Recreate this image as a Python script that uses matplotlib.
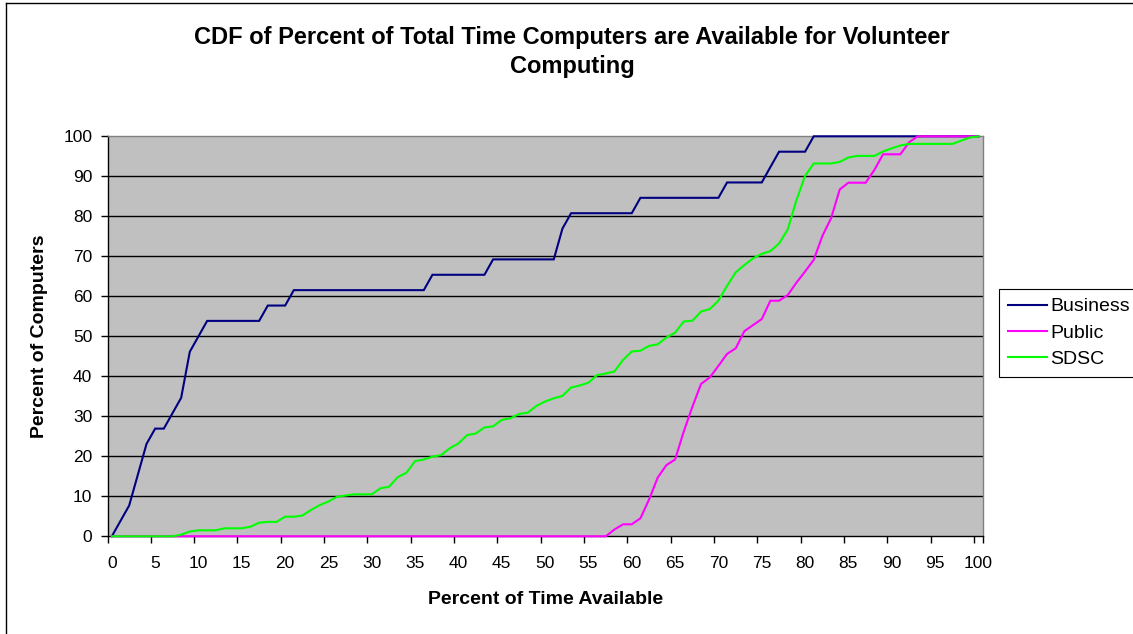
import matplotlib
matplotlib.use("Agg")
import matplotlib.pyplot as plt
from matplotlib.lines import Line2D

plt.rcParams['font.family'] = ['Liberation Sans', 'DejaVu Sans']

# ---- data ----
categories = list(range(0, 101))
tick_labels = [str(v) for v in range(0, 101, 5)]

business = [0, 3.85, 7.69, 15.38, 23.08, 26.92, 26.92, 30.77, 34.62, 46.15, 50.0,
            53.85, 53.85, 53.85, 53.85, 53.85, 53.85, 53.85,
            57.69, 57.69, 57.69,
            61.54, 61.54, 61.54, 61.54, 61.54, 61.54, 61.54, 61.54,
            61.54, 61.54, 61.54, 61.54, 61.54, 61.54, 61.54, 61.54,
            65.38, 65.38, 65.38, 65.38, 65.38, 65.38, 65.38,
            69.23, 69.23, 69.23, 69.23, 69.23, 69.23, 69.23, 69.23,
            76.92,
            80.77, 80.77, 80.77, 80.77, 80.77, 80.77, 80.77, 80.77,
            84.62, 84.62, 84.62, 84.62, 84.62, 84.62, 84.62, 84.62, 84.62, 84.62,
            88.46, 88.46, 88.46, 88.46, 88.46,
            92.31,
            96.15, 96.15, 96.15, 96.15,
            100, 100, 100, 100, 100, 100, 100, 100, 100, 100,
            100, 100, 100, 100, 100, 100, 100, 100, 100, 100]

public = [0, 0, 0, 0, 0, 0, 0, 0, 0, 0,
          0, 0, 0, 0, 0, 0, 0, 0, 0, 0,
          0, 0, 0, 0, 0, 0, 0, 0, 0, 0,
          0, 0, 0, 0, 0, 0, 0, 0, 0, 0,
          0, 0, 0, 0, 0, 0, 0, 0, 0, 0,
          0, 0, 0, 0, 0, 0, 0, 0,
          1.7, 3.0, 3.0, 4.5, 9.2, 14.7, 17.8, 19.2, 26.2, 32.4,
          38.1, 39.7, 42.6, 45.6, 47.0, 51.3, 52.8, 54.3, 58.9, 58.9,
          60.3, 63.4, 66.2, 69.1, 75.1, 79.5, 86.7, 88.4, 88.4, 88.4,
          91.6, 95.5, 95.5, 95.5, 98.5,
          100, 100, 100, 100, 100, 100, 100, 100]

sdsc = [0, 0, 0, 0, 0, 0, 0, 0,
        0.4, 1.2, 1.5, 1.5, 1.5, 2.0, 2.0, 2.0, 2.4, 3.4, 3.6, 3.6,
        4.9, 4.9, 5.2, 6.6, 7.8, 8.7, 9.9, 10.2, 10.5, 10.5,
        10.5, 12.0, 12.4, 14.8, 15.9, 18.8, 19.2, 19.9, 20.3, 22.0,
        23.2, 25.3, 25.7, 27.2, 27.5, 29.1, 29.5, 30.6, 30.9, 32.6,
        33.7, 34.5, 35.1, 37.2, 37.7, 38.4, 40.3, 40.7, 41.2, 44.1,
        46.2, 46.4, 47.6, 48.0, 49.7, 50.9, 53.7, 53.9, 56.2, 56.8,
        58.9, 62.6, 66.0, 67.8, 69.5, 70.6, 71.3, 73.2, 76.7, 84.0,
        90.1, 93.2, 93.2, 93.2, 93.6, 94.7, 95.1, 95.1, 95.1, 96.2,
        97.0, 97.7, 98.1, 98.1, 98.1, 98.1, 98.1, 98.1, 98.9, 99.7,
        100]

series_names = ["Business", "Public", "SDSC"]
series_colors = ["#000080", "#FF00FF", "#00FF00"]
y_ticks = list(range(0, 101, 10))

W, H = 1133, 634
fig = plt.figure(figsize=(W / 100, H / 100), dpi=100)
fig.patch.set_facecolor("white")

# chart-area border (top and left visible)
fig.add_artist(Line2D([6 / W, 1.0], [1 - 3 / H, 1 - 3 / H], color="black", lw=1.0,
                      transform=fig.transFigure))
fig.add_artist(Line2D([6 / W, 6 / W], [0, 1 - 3 / H], color="black", lw=1.0,
                      transform=fig.transFigure))

ax = fig.add_axes([107.5 / W, 1 - 536.3 / H, (982.7 - 107.5) / W, 400 / H])
ax.set_facecolor("#C0C0C0")

for name, vals, col in zip(series_names, [business, public, sdsc], series_colors):
    ax.plot(categories, vals, color=col, lw=1.5, label=name, zorder=3,
            solid_joinstyle="miter", clip_on=False)

ax.set_xlim(-0.5, 100.5)
ax.set_ylim(0, 100)

# y axis
ax.set_yticks(y_ticks)
ax.set_yticklabels([str(v) for v in y_ticks])
ax.tick_params(axis="y", direction="out", length=5, width=1, pad=6, labelsize=12.5,
               colors="black")
for yv in y_ticks[1:-1]:
    ax.axhline(yv, color="black", lw=1.0, zorder=1)

# x axis: labels at categories, tick marks between categories
ax.set_xticks(list(range(0, 101, 5)))
ax.set_xticklabels(tick_labels)
ax.tick_params(axis="x", which="major", length=0, pad=14, labelsize=12.5)
ax.set_xticks([v - 0.5 for v in range(0, 101, 5)] + [100.5], minor=True)
ax.tick_params(axis="x", which="minor", direction="out", length=5, width=1)

for s in ["left", "bottom"]:
    ax.spines[s].set_color("black")
    ax.spines[s].set_linewidth(1.0)
for s in ["top", "right"]:
    ax.spines[s].set_color("#808080")
    ax.spines[s].set_linewidth(1.0)

ax.set_xlabel("Percent of Time Available", fontsize=14, fontweight="bold")
ax.set_ylabel("Percent of Computers", fontsize=14, fontweight="bold")
ax.xaxis.set_label_coords(0.5, (536.3 - 600) / 400, transform=ax.transAxes)
ax.xaxis.label.set_va("center")
ax.yaxis.set_label_coords((40 - 107.5) / 875.2, 0.5, transform=ax.transAxes)
ax.yaxis.label.set_va("center")

fig.text(572 / W, 1 - 52 / H,
         "CDF of Percent of Total Time Computers are Available for Volunteer\nComputing",
         ha="center", va="center", fontsize=17, fontweight="bold", linespacing=1.3)

leg = ax.legend(loc="upper left", bbox_to_anchor=(999 / W, 1 - 289 / H),
                bbox_transform=fig.transFigure, frameon=True, fancybox=False,
                edgecolor="black", framealpha=1, fontsize=14, handlelength=2.0,
                handletextpad=0.2, borderpad=0.45, labelspacing=0.45,
                borderaxespad=0)
leg.get_frame().set_linewidth(0.8)

fig.savefig("out.png", dpi=100, facecolor="white")
